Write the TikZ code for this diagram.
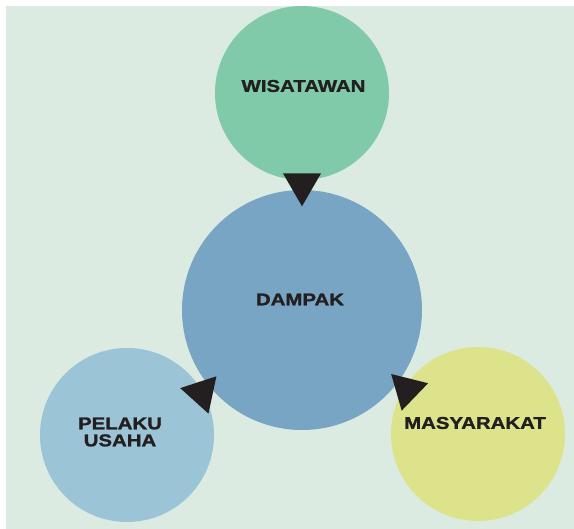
\documentclass[tikz,border=0pt]{standalone}
\usepackage{fontspec}
\newfontfamily\lblfont{Liberation Sans}[FakeStretch=1.2,FakeBold=1.5]
\usetikzlibrary{shapes.geometric,calc}
\definecolor{latar}{RGB}{219,235,226}
\definecolor{hijau}{RGB}{128,201,169}
\definecolor{biru}{RGB}{120,165,196}
\definecolor{birumuda}{RGB}{155,196,214}
\definecolor{kuning}{RGB}{220,227,138}
\definecolor{tinta}{RGB}{35,31,32}
\begin{document}
\begin{tikzpicture}[x=1pt,y=1pt,
		bulat/.style={circle,inner sep=0pt,minimum size=#1},
		teks/.style={text=tinta,font=\lblfont\bfseries\fontsize{17}{17}\selectfont,align=center,inner sep=0pt},
		segitiga/.style={regular polygon,regular polygon sides=3,fill=tinta,inner sep=0pt,minimum size=44pt}]
			\useasboundingbox (0,0) rectangle (574,529);
			\fill[white] (0,0) rectangle (574,529);
			\fill[latar] (6,0) rectangle (574,523);
			\node[bulat=174pt,fill=hijau] (wis) at (302,436) {};
			\node[bulat=240pt,fill=biru] (dampak) at (302,219) {};
			\node[bulat=174pt,fill=birumuda] (pelaku) at (127,94) {};
			\node[bulat=174pt,fill=kuning] (masy) at (478,95) {};
			\node[teks] (twis) at ($(wis)+(1.5,7)$) {WISATAWAN};
			\node[teks] (tdampak) at ($(dampak)+(-2,10.5)$) {DAMPAK};
			\node[teks] (tpelaku) at ($(pelaku)+(-7,3)$) {PELAKU\\USAHA};
			\node[teks] (tmasy) at ($(masy)+(-3,11)$) {MASYARAKAT};
			\path (wis) -- (dampak) node[segitiga,pos=.43,rotate=180] {};
			\path (dampak) -- (pelaku) node[segitiga,pos=.5,xshift=.6pt,yshift=-10.6pt,rotate=78] {};
			\path (masy) -- (dampak) node[segitiga,pos=.5,xshift=3.5pt,yshift=-7.8pt,rotate=46] {};
\end{tikzpicture}
\end{document}
